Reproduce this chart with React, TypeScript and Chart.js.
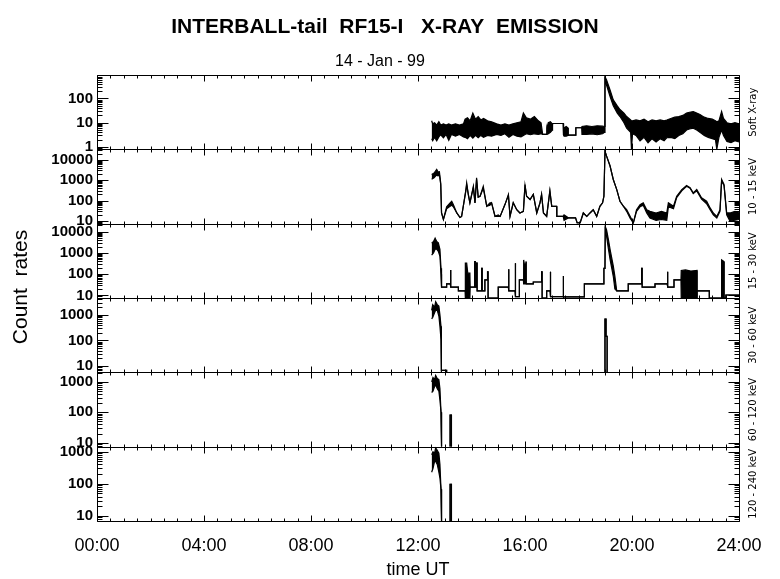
import React, { useEffect, useRef } from 'react';
import { Chart, registerables } from 'chart.js';

Chart.register(...registerables);

const FONT = '"Liberation Sans", Arial, Helvetica, sans-serif';
const SMALL_FONT = '"DejaVu Sans", sans-serif';

const TITLE = 'INTERBALL-tail  RF15-I   X-RAY  EMISSION';
const SUBTITLE = '14 - Jan - 99';
const X_TITLE = 'time UT';
const Y_TITLE = 'Count  rates';

const HOUR_MIN = 0;
const HOUR_MAX = 24;
const HOUR_LABEL_STEP = 4;
const HOUR_MINOR_STEP = 0.5;

const PANEL_IDS = ['y1', 'y2', 'y3', 'y4', 'y5', 'y6'];
const PANEL_LABELS = ['Soft X-ray', '10 - 15 keV', '15 - 30 keV', '30 - 60 keV', '60 - 120 keV', '120 - 240 keV'];
const PANEL_MIN = [0.8, 7.5, 7.6, 5.7, 7.4, 6.9];
const PANEL_MAX = [930, 32000, 24000, 4550, 2070, 1440];

// Panel 1: Soft X-ray (upper / lower envelope of the noisy trace)
const p1Time = [12.51, 12.55, 12.62, 12.70, 12.78, 12.85, 12.95, 13.05, 13.15, 13.25, 13.40, 13.55, 13.70, 13.76, 13.85, 13.95, 14.05, 14.15, 14.25, 14.35, 14.45, 14.60, 14.75, 14.94, 15.10, 15.25, 15.40, 15.55, 15.70, 15.85, 15.94, 16.05, 16.20, 16.35, 16.50, 16.60, 16.66, 16.81, 16.82, 16.87, 16.95, 17.02, 17.03, 17.43, 17.44, 17.46, 17.54, 17.61, 17.62, 17.89, 17.90, 18.12, 18.13, 18.30, 18.50, 18.70, 18.90, 18.97, 18.99, 19.05, 19.18, 19.30, 19.45, 19.55, 19.70, 19.80, 19.95, 19.98, 20.02, 20.15, 20.30, 20.45, 20.60, 20.75, 20.90, 21.05, 21.20, 21.30, 21.45, 21.60, 21.75, 21.90, 22.04, 22.15, 22.29, 22.42, 22.54, 22.70, 22.85, 23.00, 23.12, 23.17, 23.25, 23.35, 23.42, 23.55, 23.70, 23.85, 24.00];
const p1Hi = [12, 9, 10, 8, 11, 8, 9, 8, 9, 8, 9, 8, 9, 14, 16, 12, 25, 14, 18, 13, 15, 12, 11, 9, 8, 9, 8, 9, 10, 11, 25, 16, 14, 18, 12, 10, 3.3, 3.3, 6, 10, 11, 9, 9.3, 9.3, 3.1, 6.2, 7, 6, 3.1, 3.1, 6.2, 6.2, 7, 7.5, 7, 7.5, 7.2, 7, 790, 580, 226, 88, 50, 35, 25, 18, 13, 12, 12, 13, 12, 14, 11, 13, 12, 13, 12, 13, 15, 17, 18, 20, 25, 27, 29, 25, 22, 17, 15, 14, 12, 11, 12, 29, 15, 10, 9, 10, 9];
const p1Lo = [2.2, 1.8, 2.5, 1.8, 2.6, 3.2, 2.4, 3.3, 1.9, 3.3, 2.8, 3.3, 2.6, 2.5, 2.2, 3, 2.3, 3, 2.4, 3, 2.5, 3, 2.8, 3.3, 3, 3.5, 2.5, 3.3, 2.8, 2.6, 3, 3.5, 3.2, 3.5, 3.3, 3.5, 3.3, 3.3, 6, 3.5, 4, 5, 9.3, 9.3, 3.1, 2.8, 2.8, 3, 3.1, 3.1, 6.2, 6.2, 3.3, 3.3, 3.5, 3.2, 3.5, 4, 600, 350, 120, 50, 25, 18, 10, 6, 4, 0.8, 3.5, 3, 1.8, 2.5, 1.5, 2.2, 1.6, 2.2, 1.8, 2.4, 2.5, 2.2, 3, 3.5, 5, 5.5, 6, 5, 4, 3, 2.5, 2.2, 2, 0.8, 2.5, 5, 3, 1.7, 1.5, 1.8, 1.6];

// Panel 2: 10 - 15 keV
const p2Time = [12.51, 12.60, 12.70, 12.75, 12.80, 12.85, 12.88, 12.95, 13.07, 13.20, 13.26, 13.32, 13.45, 13.57, 13.63, 13.70, 13.79, 13.82, 13.88, 13.94, 14.07, 14.13, 14.19, 14.25, 14.32, 14.44, 14.57, 14.69, 14.75, 14.88, 15.00, 15.07, 15.25, 15.38, 15.44, 15.56, 15.69, 15.81, 15.94, 16.00, 16.06, 16.19, 16.31, 16.44, 16.56, 16.62, 16.69, 16.81, 16.93, 17.00, 17.18, 17.19, 17.43, 17.46, 17.62, 17.89, 17.95, 18.06, 18.18, 18.31, 18.43, 18.55, 18.68, 18.80, 18.90, 18.95, 18.99, 19.05, 19.18, 19.30, 19.43, 19.55, 19.68, 19.80, 19.93, 20.05, 20.17, 20.30, 20.42, 20.55, 20.67, 20.90, 21.10, 21.30, 21.36, 21.55, 21.67, 21.86, 22.04, 22.17, 22.29, 22.42, 22.60, 22.79, 22.92, 23.04, 23.17, 23.29, 23.35, 23.44, 23.54, 23.66, 23.85, 24.00];
const p2Hi = [1900, 2200, 3340, 2500, 2600, 700, 25, 12, 50, 78, 93, 64, 25, 15, 17, 60, 347, 740, 200, 78, 500, 78, 1300, 150, 164, 500, 53, 78, 78, 17, 20, 17, 64, 200, 17, 78, 36, 25, 30, 615, 164, 113, 200, 25, 78, 200, 25, 17, 300, 53, 53, 17, 17, 20, 14.4, 14.4, 8.2, 8.2, 25, 17, 25, 36, 17, 53, 78, 164, 26000, 15000, 4900, 1080, 347, 93, 53, 36, 17, 8.2, 36, 64, 78, 36, 30, 25, 30, 25, 78, 53, 164, 347, 550, 425, 240, 347, 137, 93, 44, 25, 17, 36, 1080, 615, 25, 25, 30, 25];
const p2Lo = [1100, 1300, 1800, 1600, 1900, 600, 25, 12, 40, 53, 60, 50, 25, 15, 17, 60, 300, 600, 200, 78, 450, 78, 1100, 150, 164, 400, 53, 60, 78, 17, 17, 17, 64, 180, 17, 78, 36, 25, 30, 550, 164, 113, 200, 25, 78, 200, 25, 17, 300, 53, 53, 17, 17, 11, 14.4, 14.4, 8.2, 8.2, 25, 17, 25, 36, 17, 53, 78, 164, 26000, 15000, 4900, 1080, 347, 93, 53, 30, 14, 8.2, 30, 50, 60, 25, 14, 11, 12, 11, 50, 40, 140, 300, 500, 400, 220, 300, 120, 70, 36, 20, 14, 30, 900, 550, 20, 10, 11, 12];

// Panel 3: 15 - 30 keV
const p3Time = [12.51, 12.58, 12.64, 12.70, 12.76, 12.82, 12.86, 12.88, 13.07, 13.07, 13.21, 13.21, 13.23, 13.23, 13.51, 13.51, 13.76, 13.77, 13.82, 13.86, 13.94, 13.95, 14.12, 14.12, 14.14, 14.14, 14.19, 14.19, 14.21, 14.21, 14.38, 14.38, 14.40, 14.40, 14.50, 14.50, 14.60, 14.60, 14.62, 14.62, 15.00, 15.00, 15.38, 15.38, 15.40, 15.40, 15.63, 15.63, 15.65, 15.65, 15.79, 15.79, 15.94, 15.95, 16.00, 16.04, 16.05, 16.31, 16.31, 16.62, 16.62, 16.64, 16.64, 16.81, 16.81, 16.94, 16.94, 16.96, 16.96, 17.43, 17.43, 17.44, 17.44, 18.22, 18.22, 18.95, 18.95, 18.99, 19.00, 19.05, 19.12, 19.18, 19.24, 19.30, 19.36, 19.43, 19.86, 19.86, 20.36, 20.36, 20.38, 20.38, 20.86, 20.86, 21.32, 21.32, 21.34, 21.34, 21.57, 21.57, 21.83, 21.84, 22.00, 22.20, 22.43, 22.44, 22.89, 22.89, 23.35, 23.35, 23.44, 23.45, 23.51, 23.51, 24.00];
const p3Hi = [2900, 3500, 5000, 3500, 3000, 1500, 190, 24.5, 24.5, 35, 35, 160, 160, 24.5, 24.5, 16.3, 16.3, 330, 330, 112, 112, 24.5, 24.5, 390, 390, 24.5, 24.5, 330, 330, 16.3, 16.3, 190, 190, 16.3, 16.3, 54, 54, 130, 130, 7.6, 7.6, 24.5, 24.5, 172, 172, 16.3, 16.3, 330, 330, 8.8, 8.8, 54, 54, 470, 200, 400, 35, 35, 43, 43, 130, 130, 7.6, 7.6, 16.3, 16.3, 130, 130, 8.8, 8.8, 83, 83, 8.5, 8.5, 35, 35, 190, 190, 17700, 12300, 4150, 1500, 600, 250, 80, 16.3, 16.3, 35, 35, 190, 190, 24.5, 24.5, 35, 35, 130, 130, 24.5, 24.5, 54, 54, 150, 160, 140, 150, 16.3, 16.3, 7.6, 7.6, 470, 390, 7.6, 7.6, 10.5, 10.5];
const p3Lo = [800, 1000, 1500, 1500, 1200, 700, 100, 24.5, 24.5, 35, 35, 160, 160, 24.5, 24.5, 16.3, 16.3, 7.6, 7.6, 7.6, 7.6, 24.5, 24.5, 390, 390, 24.5, 24.5, 330, 330, 16.3, 16.3, 190, 190, 16.3, 16.3, 54, 54, 130, 130, 7.6, 7.6, 24.5, 24.5, 172, 172, 16.3, 16.3, 330, 330, 8.8, 8.8, 54, 54, 35, 35, 35, 35, 35, 43, 43, 130, 130, 7.6, 7.6, 16.3, 16.3, 130, 130, 8.8, 8.8, 83, 83, 8.5, 8.5, 35, 35, 190, 190, 17700, 6000, 1500, 500, 200, 80, 20, 16.3, 16.3, 35, 35, 190, 190, 24.5, 24.5, 35, 35, 130, 130, 24.5, 24.5, 54, 54, 7.6, 7.6, 7.6, 7.6, 16.3, 16.3, 7.6, 7.6, 7.6, 7.6, 7.6, 7.6, 10.5, 10.5];

// Panel 4: 30 - 60 keV
const p4Time = [12.51, 12.55, 12.62, 12.66, 12.72, 12.78, 12.82, 12.86, 12.87, 12.88, 13.07, 13.07, 13.08, 18.99, 18.99, 19.03, 19.03, 19.07, 19.07];
const p4Hi = [1500, 2500, 2000, 3250, 2500, 2200, 1000, 355, 108, 6.8, 6.8, 5.7, null, 5.7, 680, 680, 145, 145, 5.7];
const p4Lo = [700, 800, 1200, 1500, 1500, 900, 355, 108, 5.7, 6.8, 6.8, 5.7, null, 5.7, 680, 680, 145, 145, 5.7];

// Panel 5: 60 - 120 keV
const p5Time = [12.51, 12.56, 12.62, 12.66, 12.72, 12.78, 12.82, 12.86, 12.88, 12.90, 13.20, 13.20, 13.25, 13.25];
const p5Hi = [1000, 1400, 1200, 1630, 1300, 1200, 600, 100, 7.4, null, 7.4, 81, 81, 7.4];
const p5Lo = [450, 500, 700, 800, 600, 500, 250, 100, 7.4, null, 7.4, 81, 81, 7.4];

// Panel 6: 120 - 240 keV
const p6Time = [12.51, 12.56, 12.62, 12.66, 12.72, 12.78, 12.82, 12.86, 12.88, 12.90, 13.20, 13.20, 13.25, 13.25];
const p6Hi = [800, 1000, 900, 1320, 1100, 900, 400, 67, 6.9, null, 6.9, 96, 96, 6.9];
const p6Lo = [230, 300, 500, 500, 400, 230, 150, 67, 6.9, null, 6.9, 96, 96, 6.9];

const PANEL_TIME = [p1Time, p2Time, p3Time, p4Time, p5Time, p6Time];
const PANEL_HI = [p1Hi, p2Hi, p3Hi, p4Hi, p5Hi, p6Hi];
const PANEL_LO = [p1Lo, p2Lo, p3Lo, p4Lo, p5Lo, p6Lo];

const isPow10 = (v: number) => {
  if (!(v > 0)) return false;
  const l = Math.log10(v);
  return Math.abs(l - Math.round(l)) < 1e-9;
};

const hourLabel = (h: number) => String(Math.round(h)).padStart(2, '0') + ':00';

const framePlugin = {
  id: 'idlFrame',
  afterDraw(chart: any) {
    const ctx = chart.ctx as CanvasRenderingContext2D;
    const area = chart.chartArea;
    const xs = chart.scales.x;
    const L = Math.round(area.left) + 0.5;
    const R = Math.round(area.right) + 0.5;
    ctx.save();
    ctx.strokeStyle = '#000';
    ctx.fillStyle = '#000';
    ctx.lineWidth = 1;
    PANEL_IDS.forEach((id, i) => {
      const s = chart.scales[id];
      const top = Math.round(s.top) + 0.5;
      const bottom = Math.round(s.bottom) + 0.5;
      ctx.beginPath();
      ctx.rect(L, top, R - L, bottom - top);
      const kMin = Math.floor(Math.log10(PANEL_MIN[i]));
      const kMax = Math.ceil(Math.log10(PANEL_MAX[i]));
      for (let k = kMin; k <= kMax; k++) {
        for (let m = 1; m <= 9; m++) {
          const v = m * Math.pow(10, k);
          if (v < PANEL_MIN[i] || v > PANEL_MAX[i]) continue;
          const y = Math.round(s.getPixelForValue(v)) + 0.5;
          const len = m === 1 ? 11 : 5;
          ctx.moveTo(L, y);
          ctx.lineTo(L + len, y);
          ctx.moveTo(R, y);
          ctx.lineTo(R - len, y);
        }
      }
      for (let h = HOUR_MIN; h <= HOUR_MAX + 1e-9; h += HOUR_MINOR_STEP) {
        const x = Math.round(xs.getPixelForValue(h)) + 0.5;
        const len = Math.abs(h / HOUR_LABEL_STEP - Math.round(h / HOUR_LABEL_STEP)) < 1e-9 ? 6 : 3;
        ctx.moveTo(x, top);
        ctx.lineTo(x, top + len);
        ctx.moveTo(x, bottom);
        ctx.lineTo(x, bottom - len);
      }
      ctx.stroke();

      ctx.save();
      ctx.font = '10px ' + SMALL_FONT;
      ctx.textAlign = 'center';
      ctx.textBaseline = 'middle';
      ctx.translate(753, (s.top + s.bottom) / 2);
      ctx.rotate(-Math.PI / 2);
      ctx.fillText(PANEL_LABELS[i], 0, 0);
      ctx.restore();
    });

    ctx.textAlign = 'center';
    ctx.textBaseline = 'middle';
    ctx.font = 'bold 21px ' + FONT;
    ctx.fillText(TITLE, 385, 27);
    ctx.font = '16px ' + FONT;
    ctx.fillText(SUBTITLE, 380, 62);
    ctx.font = '18px ' + FONT;
    ctx.fillText(X_TITLE, (area.left + area.right) / 2, 570);
    ctx.save();
    ctx.font = '21px ' + FONT;
    ctx.translate(21, 287);
    ctx.rotate(-Math.PI / 2);
    ctx.fillText(Y_TITLE, 0, 0);
    ctx.restore();
    ctx.restore();
  },
};

export default function App() {
  const canvasRef = useRef<HTMLCanvasElement | null>(null);

  useEffect(() => {
    if (!canvasRef.current) return;
    const datasets: any[] = [];
    PANEL_IDS.forEach((id, i) => {
      const t = PANEL_TIME[i];
      datasets.push({
        label: PANEL_LABELS[i] + ' upper',
        data: t.map((x, j) => ({ x, y: PANEL_HI[i][j] })),
        yAxisID: id,
        borderColor: '#000',
        borderWidth: 1.2,
        pointRadius: 0,
        fill: false,
        tension: 0,
        spanGaps: false,
      });
      datasets.push({
        label: PANEL_LABELS[i] + ' lower',
        data: t.map((x, j) => ({ x, y: PANEL_LO[i][j] })),
        yAxisID: id,
        borderColor: '#000',
        backgroundColor: '#000',
        borderWidth: 1.2,
        pointRadius: 0,
        fill: '-1',
        tension: 0,
        spanGaps: false,
      });
    });

    const scales: any = {
      x: {
        type: 'linear',
        position: 'bottom',
        min: HOUR_MIN,
        max: HOUR_MAX,
        grid: { display: false, drawTicks: false },
        border: { display: false },
        ticks: {
          stepSize: HOUR_LABEL_STEP,
          autoSkip: false,
          maxRotation: 0,
          padding: 14,
          color: '#000',
          font: { family: FONT, size: 18 },
          callback: (v: number) => hourLabel(v),
        },
        afterFit: (s: any) => {
          s.height = 58;
        },
      },
    };
    PANEL_IDS.forEach((id, i) => {
      scales[id] = {
        type: 'logarithmic',
        position: 'left',
        stack: 'panels',
        stackWeight: 1,
        weight: PANEL_IDS.length - i,
        min: PANEL_MIN[i],
        max: PANEL_MAX[i],
        bounds: 'data',
        grid: { display: false, drawTicks: false },
        border: { display: false },
        ticks: {
          autoSkip: false,
          padding: 4,
          color: '#000',
          font: { family: FONT, size: 15, weight: 'bold' },
          callback: (v: number) => (isPow10(v) ? String(Math.round(v)) : null),
        },
        afterFit: (s: any) => {
          s.width = 97;
        },
      };
    });

    const chart = new Chart(canvasRef.current, {
      type: 'line',
      data: { datasets },
      options: {
        animation: false,
        responsive: false,
        maintainAspectRatio: false,
        layout: { padding: { top: 75, right: 41, bottom: 0, left: 0 } },
        plugins: {
          legend: { display: false },
          tooltip: { enabled: false },
          title: { display: false },
        },
        scales,
      },
      plugins: [framePlugin],
    } as any);
    return () => chart.destroy();
  }, []);

  return (
    <div style={{ position: 'fixed', left: 0, top: 0, width: 780, height: 579, background: '#fff' }}>
      <canvas ref={canvasRef} width={780} height={579} style={{ width: 780, height: 579 }} />
    </div>
  );
}
